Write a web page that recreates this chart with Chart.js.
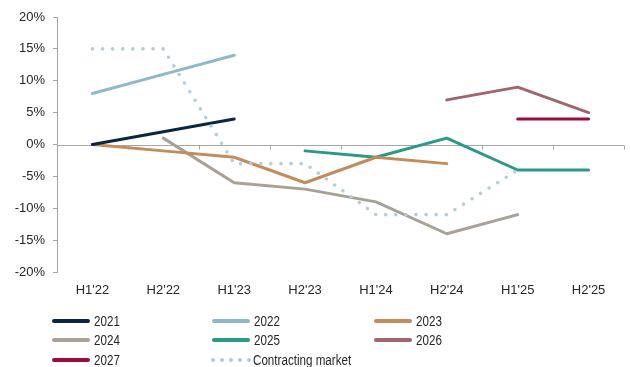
<!DOCTYPE html>
<html>
<head>
<meta charset="utf-8">
<script src="https://cdn.jsdelivr.net/npm/chart.js@4.4.1/dist/chart.umd.min.js"></script>
<style>
  html, body { margin: 0; padding: 0; background: #fff; }
  #wrap { position: relative; width: 630px; height: 367px; }
  #chart { position: absolute; left: 0; top: 0; }
  .leg { position: absolute; display: flex; align-items: center; height: 18px;
         font: 14px "Liberation Sans Narrow", "Liberation Sans", Arial, sans-serif; color: #262626; }
  .leg span { display: inline-block; transform: scaleX(0.83); transform-origin: left center; white-space: nowrap; }
  .sw { width: 38px; height: 4px; border-radius: 2px; margin-right: 4px; }
  .dots { width: 40px; height: 4px; margin-right: 2px;
          background-size: 9px 4px; background-repeat: repeat-x; }
</style>
</head>
<body>
<div id="wrap">
  <canvas id="chart" width="630" height="367"></canvas>
  <div id="legend"></div>
</div>
<script>
// half-year periods on the x axis
const periods = ["H1'22", "H2'22", "H1'23", "H2'23", "H1'24", "H2'24", "H1'25", "H2'25"];

// y axis range, percent
const yMin = -20;
const yMax = 20;
const yStep = 5;

// series values in %, null where a vintage has no data
const s2021 = [0, 2, 4, null, null, null, null, null];
const s2022 = [8, 11, 14, null, null, null, null, null];
const s2023 = [0, -1, -2, -6, -2, -3, null, null];
const s2024 = [null, 1, -6, -7, -9, -14, -11, null];
const s2025 = [null, null, null, -1, -2, 1, -4, -4];
const s2026 = [null, null, null, null, null, 7, 9, 5];
const s2027 = [null, null, null, null, null, null, 4, 4];
const contracting = [15, 15, -3, -3, -11, -11, -4, null];

const seriesNames = ['2021', '2022', '2023', '2024', '2025', '2026', '2027', 'Contracting market'];
const seriesColors = ['#0B2545', '#8DB9CA', '#C28C5C', '#A8A197', '#2A9A87', '#A0666E', '#9C0B3F', '#B3CDD9'];
const seriesData = [s2021, s2022, s2023, s2024, s2025, s2026, s2027, contracting];

const axisGrey = '#A6A6A6';
const font = { family: '"Liberation Sans", Arial, sans-serif', size: 13 };

const datasets = seriesData.map((d, i) => {
  const dotted = i === seriesData.length - 1;
  return {
    label: seriesNames[i],
    data: d,
    borderColor: seriesColors[i],
    backgroundColor: seriesColors[i],
    borderWidth: dotted ? 3.6 : 3,
    borderDash: dotted ? [0, 10.1] : [],
    borderCapStyle: 'round',
    borderJoinStyle: 'round',
    pointRadius: 0,
    tension: 0,
    spanGaps: false,
    order: dotted ? 0 : 1
  };
});

// x axis sits on the zero line: draw it with small tick marks between periods
const zeroAxis = {
  id: 'zeroAxis',
  beforeDatasetsDraw(chart) {
    const { ctx, chartArea, scales } = chart;
    const y0 = Math.round(scales.y.getPixelForValue(0)) + 0.5;
    const n = periods.length;
    ctx.save();
    ctx.strokeStyle = axisGrey;
    ctx.lineWidth = 1;
    ctx.beginPath();
    ctx.moveTo(chartArea.left, y0);
    ctx.lineTo(chartArea.right, y0);
    for (let i = 1; i <= n; i++) {
      const x = Math.round(chartArea.left + i * (chartArea.right - chartArea.left) / n) + 0.5;
      ctx.moveTo(x, y0);
      ctx.lineTo(x, y0 + 4);
    }
    ctx.stroke();
    ctx.restore();
  }
};

new Chart(document.getElementById('chart'), {
  type: 'line',
  data: { labels: periods, datasets: datasets },
  options: {
    responsive: false,
    animation: false,
    layout: { padding: { top: 17, right: 6, bottom: 55, left: 0 } },
    plugins: {
      legend: { display: false },
      tooltip: { enabled: false }
    },
    scales: {
      x: {
        offset: true,
        grid: { display: false, drawTicks: false },
        border: { display: false },
        ticks: { color: '#262626', font: font, padding: 11, maxRotation: 0, autoSkip: false },
        afterFit(s) { s.height = 40; }
      },
      y: {
        min: yMin,
        max: yMax,
        grid: {
          color: 'transparent',
          tickColor: axisGrey,
          tickLength: 4,
          drawTicks: true
        },
        border: { display: true, color: axisGrey },
        ticks: {
          stepSize: yStep,
          padding: 8,
          color: '#262626',
          font: font,
          callback: v => v + '%'
        },
        afterFit(s) { s.width = 57; }
      }
    }
  },
  plugins: [zeroAxis]
});

// legend in three columns below the plot
const legCols = [52, 212, 374];
const legRows = [312, 331, 351];
const legend = document.getElementById('legend');
seriesNames.forEach((name, i) => {
  const item = document.createElement('div');
  item.className = 'leg';
  item.style.left = legCols[i % 3] + 'px';
  item.style.top = legRows[Math.floor(i / 3)] + 'px';
  const sw = document.createElement('div');
  if (i === seriesNames.length - 1) {
    sw.className = 'dots';
    sw.style.backgroundImage = 'radial-gradient(circle at 2px 2px, ' + seriesColors[i] + ' 1.7px, transparent 2.2px)';
    item.style.left = (legCols[i % 3] - 1) + 'px';
  } else {
    sw.className = 'sw';
    sw.style.background = seriesColors[i];
  }
  const txt = document.createElement('span');
  txt.textContent = name;
  item.appendChild(sw);
  item.appendChild(txt);
  legend.appendChild(item);
});
</script>
</body>
</html>
